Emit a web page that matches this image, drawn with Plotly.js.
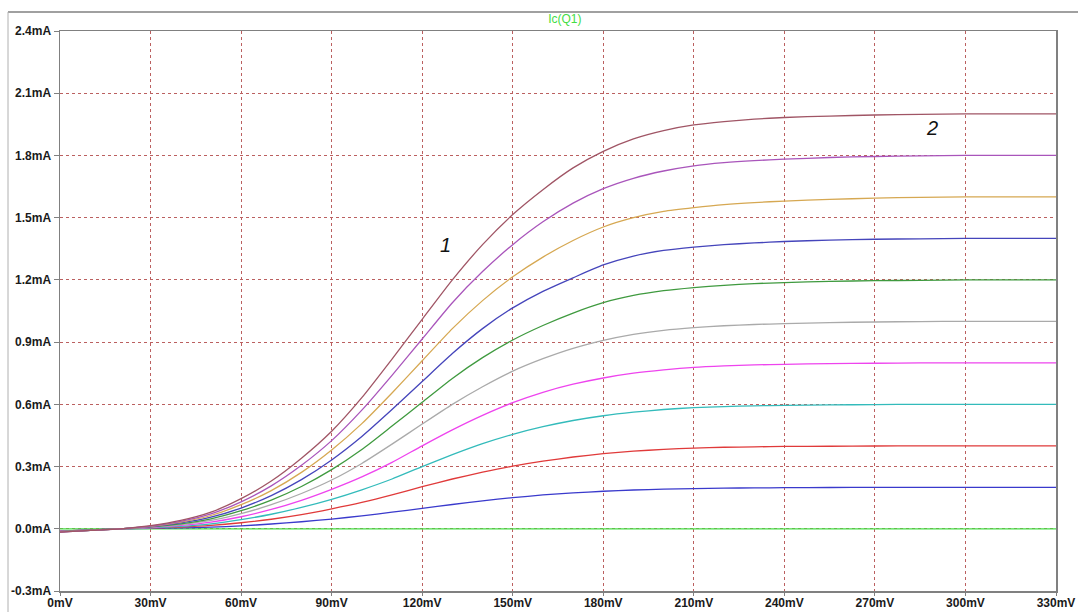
<!DOCTYPE html>
<html>
<head>
<meta charset="utf-8">
<script src="https://cdn.plot.ly/plotly-3.0.1.min.js"></script>
<style>html,body{margin:0;padding:0;background:#fff;}#chart{width:1078px;height:612px;}</style>
</head>
<body>
<div id="chart"></div>
<script>
// Collector-emitter voltage (mV)
const vce = [0,10,20,30,40,50,60,70,80,90,100,110,120,130,140,150,160,170,180,190,200,210,220,230,240,255,270,285,300,315,330];

// Ic (mA) for each base current step
const ic00 = [0,0,0,0,0,0,0,0,0,0,0,0,0,0,0,0,0,0,0,0,0,0,0,0,0,0,0,0,0,0,0];
const ic02 = [-0.012,-0.006,0,0.002,0.004,0.008,0.014,0.023,0.034,0.047,0.062,0.08,0.098,0.117,0.135,0.15,0.163,0.173,0.181,0.187,0.191,0.194,0.196,0.197,0.198,0.199,0.2,0.2,0.2,0.2,0.2];
const ic04 = [-0.012,-0.006,0,0.003,0.008,0.016,0.029,0.046,0.068,0.096,0.127,0.163,0.203,0.24,0.273,0.302,0.326,0.346,0.362,0.374,0.383,0.389,0.393,0.395,0.397,0.398,0.399,0.4,0.4,0.4,0.4];
const ic06 = [-0.013,-0.006,0,0.005,0.012,0.024,0.044,0.07,0.103,0.142,0.188,0.24,0.3,0.357,0.41,0.455,0.492,0.522,0.545,0.562,0.575,0.584,0.589,0.593,0.595,0.597,0.599,0.6,0.6,0.6,0.6];
const ic08 = [-0.013,-0.007,0,0.006,0.016,0.032,0.058,0.093,0.137,0.19,0.25,0.32,0.4,0.477,0.547,0.608,0.658,0.697,0.727,0.75,0.766,0.778,0.785,0.79,0.793,0.796,0.798,0.8,0.8,0.8,0.8];
const ic10 = [-0.014,-0.007,0,0.008,0.02,0.04,0.073,0.116,0.17,0.235,0.315,0.408,0.505,0.6,0.685,0.76,0.82,0.87,0.908,0.937,0.957,0.97,0.979,0.985,0.989,0.994,0.997,0.999,1,1,1];
const ic12 = [-0.014,-0.007,0,0.009,0.024,0.048,0.087,0.138,0.204,0.285,0.382,0.495,0.61,0.725,0.825,0.91,0.98,1.04,1.09,1.125,1.148,1.163,1.174,1.182,1.187,1.193,1.196,1.198,1.2,1.2,1.2];
const ic14 = [-0.015,-0.008,0,0.01,0.028,0.056,0.1,0.16,0.237,0.332,0.445,0.575,0.71,0.845,0.965,1.065,1.145,1.21,1.272,1.315,1.342,1.358,1.37,1.378,1.385,1.392,1.396,1.398,1.4,1.4,1.4];
const ic16 = [-0.015,-0.008,0,0.012,0.032,0.064,0.116,0.184,0.272,0.38,0.507,0.655,0.81,0.965,1.1,1.215,1.31,1.39,1.455,1.5,1.53,1.548,1.563,1.573,1.58,1.588,1.594,1.598,1.6,1.6,1.6];
const ic18 = [-0.016,-0.008,0,0.013,0.036,0.072,0.13,0.207,0.306,0.425,0.572,0.74,0.915,1.09,1.24,1.37,1.48,1.57,1.64,1.69,1.725,1.75,1.765,1.775,1.782,1.79,1.795,1.798,1.8,1.8,1.8];
const ic20 = [-0.016,-0.008,0,0.015,0.04,0.08,0.145,0.23,0.34,0.47,0.632,0.818,1.01,1.2,1.37,1.515,1.635,1.74,1.82,1.88,1.92,1.947,1.963,1.975,1.983,1.99,1.995,1.998,2,2,2];

const seriesList = [ic00, ic02, ic04, ic06, ic08, ic10, ic12, ic14, ic16, ic18, ic20];
const seriesColors = ['#44dd44','#3a3acc','#e03a3a','#33bbbb','#ee44ee','#aaaaaa','#3f9a3f','#4545bb','#d6a852','#a955bb','#a05565'];

const xTickVals = [0,30,60,90,120,150,180,210,240,270,300,330];
const xTickText = ['0mV','30mV','60mV','90mV','120mV','150mV','180mV','210mV','240mV','270mV','300mV','330mV'];
const yTickVals = [-0.3,0,0.3,0.6,0.9,1.2,1.5,1.8,2.1,2.4];
const yTickText = ['-0.3mA','0.0mA','0.3mA','0.6mA','0.9mA','1.2mA','1.5mA','1.8mA','2.1mA','2.4mA'];

const traces = seriesList.map((ys, i) => ({
  x: vce, y: ys, type: 'scatter', mode: 'lines',
  line: {color: seriesColors[i], width: 1.3, shape: 'spline', smoothing: 0.6},
  hoverinfo: 'skip', showlegend: false
}));

const tickFont = {family: 'Liberation Sans, Arial, sans-serif', size: 12, color: '#1a1a1a', weight: 'bold'};

const layout = {
  width: 1078, height: 612,
  margin: {l: 60, r: 22, t: 31, b: 21, pad: 0},
  paper_bgcolor: '#ffffff', plot_bgcolor: '#ffffff',
  title: {text: 'Ic(Q1)', font: {family: 'Liberation Sans, Arial, sans-serif', size: 12, color: '#44dd44'},
          xref: 'container', yref: 'container', x: 0.524, y: 1 - 19/612, xanchor: 'center', yanchor: 'middle'},
  xaxis: {
    range: [0, 330], tickvals: xTickVals, ticktext: xTickText,
    showgrid: true, gridcolor: '#bb6060', griddash: 'dot', gridwidth: 1,
    showline: true, linecolor: '#808080', linewidth: 1.5, mirror: true,
    ticks: 'outside', ticklen: 3, tickcolor: '#808080', tickfont: tickFont,
    ticklabelstandoff: -3,
    zeroline: false, fixedrange: true
  },
  yaxis: {
    range: [-0.3, 2.4], tickvals: yTickVals, ticktext: yTickText,
    showgrid: true, gridcolor: '#bb6060', griddash: 'dot', gridwidth: 1,
    showline: true, linecolor: '#808080', linewidth: 1.5, mirror: true,
    ticks: 'outside', ticklen: 5, tickcolor: '#808080', tickfont: tickFont,
    zeroline: false, fixedrange: true
  },
  annotations: [
    {x: 127.6, y: 1.367, xref: 'x', yref: 'y', text: '<i>1</i>', showarrow: false,
     font: {family: 'Liberation Sans, Arial, sans-serif', size: 20, color: '#111'}},
    {x: 289, y: 1.932, xref: 'x', yref: 'y', text: '<i>2</i>', showarrow: false,
     font: {family: 'Liberation Sans, Arial, sans-serif', size: 20, color: '#111'}}
  ],
  shapes: [
    {type: 'line', xref: 'paper', yref: 'paper', x0: -0.0522, x1: 1.03, y0: 1.034, y1: 1.034,
     line: {color: '#a0a0a0', width: 2}},
    {type: 'line', xref: 'paper', yref: 'paper', x0: -0.0522, x1: -0.0522, y0: 1.034, y1: -0.04,
     line: {color: '#b0b0b0', width: 1}}
  ]
};

Plotly.newPlot('chart', traces, layout, {staticPlot: true, displayModeBar: false});
</script>
</body>
</html>
